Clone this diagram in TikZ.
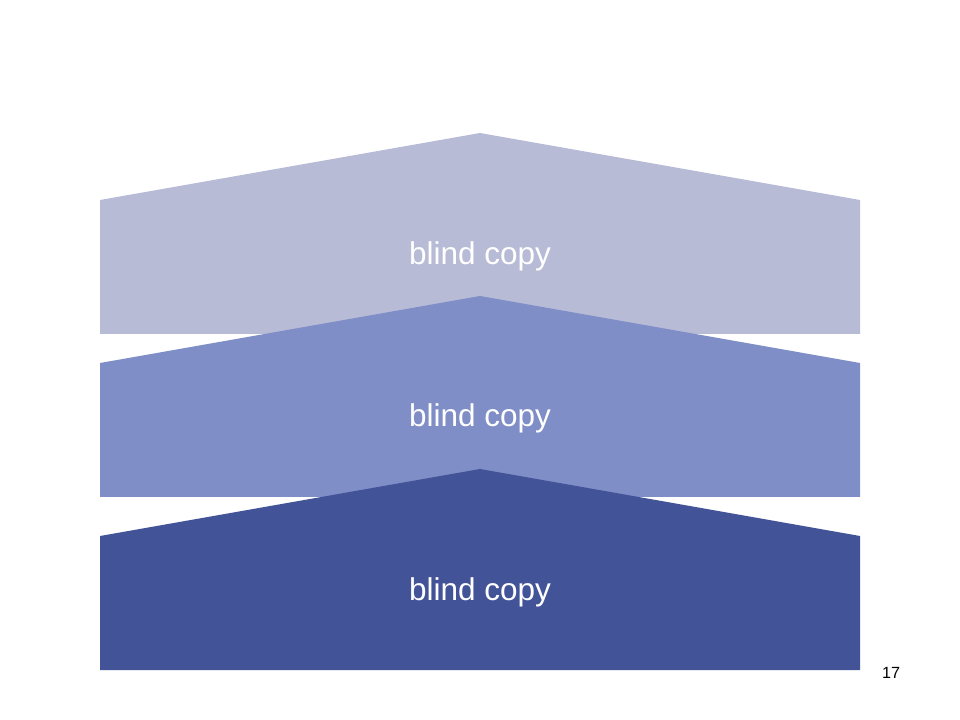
\documentclass[tikz,border=0pt]{standalone}
\usepackage{fontspec}
\setmainfont{Liberation Sans}
\definecolor{layerlight}{HTML}{B8BBD6}
\definecolor{layermid}{HTML}{7F8EC6}
\definecolor{layerdark}{HTML}{435397}
\begin{document}
\begin{tikzpicture}[x=0.025cm, y=-0.025cm]
    \tikzset{
      layer/.style={draw=none},
      label/.style={text=white, font=\fontsize{22.4}{26}\selectfont, inner sep=0pt},
      pagenum/.style={text=black, font=\fontsize{11.5}{14}\selectfont, inner sep=0pt}
    }
    \useasboundingbox (0,0) rectangle (960,720);
    \fill [layer, fill=layerlight] (100,334) -- (100,200) -- (480,133) -- (860,200) -- (860,334) -- cycle;
    \fill [layer, fill=layermid] (100,497) -- (100,363) -- (480,296) -- (860,363) -- (860,497) -- cycle;
    \fill [layer, fill=layerdark] (100,670) -- (100,536) -- (480,469) -- (860,536) -- (860,670) -- cycle;
    \node [label] (top) at (480,256) {blind copy};
    \node [label] (middle) at (480,418) {blind copy};
    \node [label] (bottom) at (480,592) {blind copy};
    \node [pagenum] (page) at (891,673) {17};
\end{tikzpicture}
\end{document}
